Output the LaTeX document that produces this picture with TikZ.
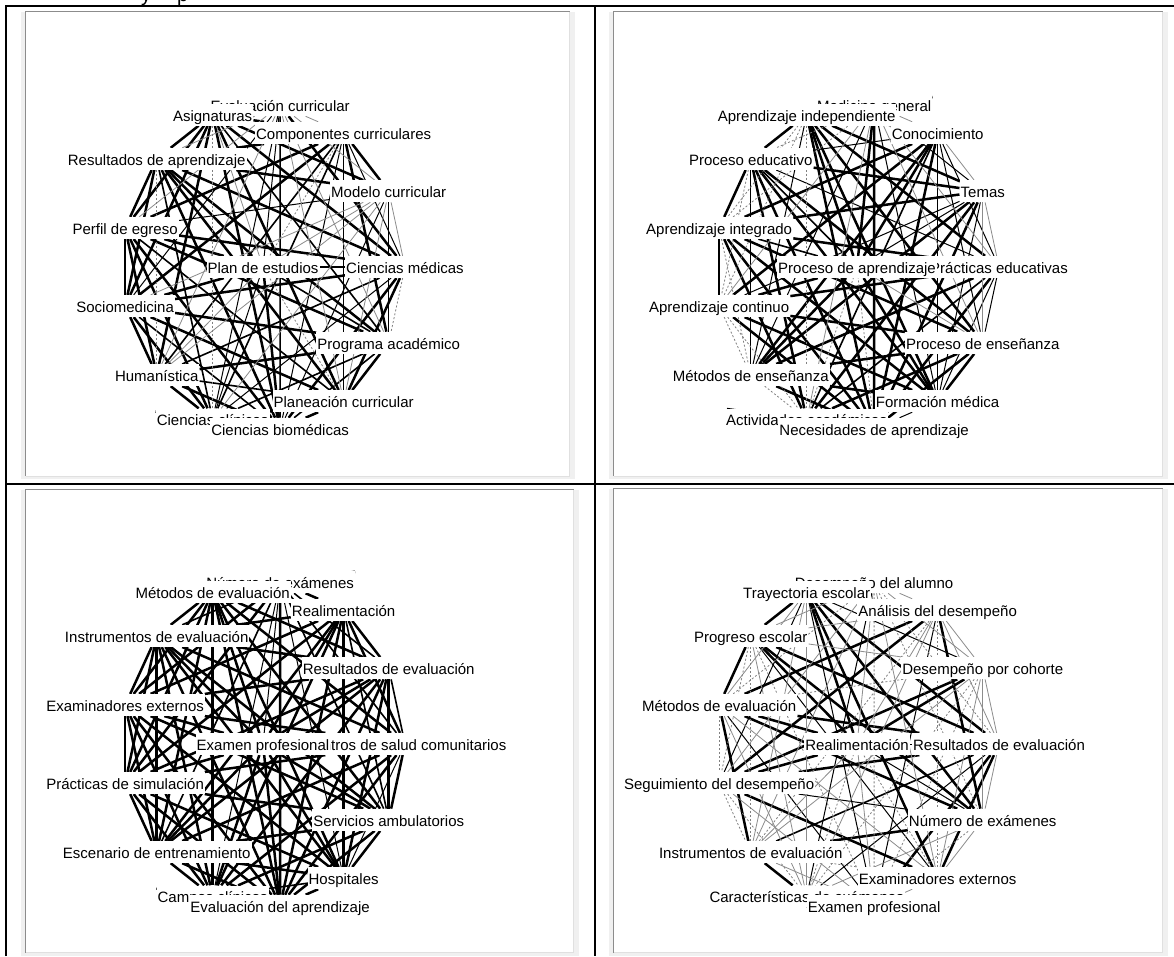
\documentclass[tikz,border=0pt]{standalone}
\usepackage{fontspec}
\setmainfont{Liberation Sans}
\usepackage{xcolor}
\usepackage{tikz}
\usetikzlibrary{calc, backgrounds}

\newcommand{\shotframe}[4]{%
    \fill[black!6] ({#1-4.5},#2) rectangle ({#3+5},{#4+3});
    \fill[white] (#1,#2) rectangle (#3,#4);
    \draw[black!45, line width=1.4pt] (#1,#4) -- (#1,#2) -- (#3,#2);
    \draw[black!12, line width=1pt] (#3,#2) -- (#3,#4) -- (#1,#4);
}

\tikzset{
    lab/.style={fill=white, inner xsep=1pt, inner ysep=0.3pt, text height=17pt, text depth=4.2pt,
        font=\fontsize{15}{17}\selectfont},
    heavy/.style={line width=2.5pt},
    medium/.style={line width=1.6pt},
    light/.style={line width=1pt},
    faint/.style={line width=0.8pt, black!45},
    dashline/.style={line width=0.8pt, black!50, dash pattern=on 2pt off 2pt}
}

\begin{document}
\begin{tikzpicture}[x=1pt, y=-1pt]
    \useasboundingbox (0,0) rectangle (1174,956);

    \node[anchor=base west, inner sep=0, font=\fontsize{20}{24}\selectfont] (capy) at (141,1) {y};
    \node[anchor=base west, inner sep=0, font=\fontsize{20}{24}\selectfont] (capp) at (177,1) {p};

    \foreach \name [count=\k from 0] in {Ciencias médicas,Modelo curricular,Componentes curriculares,Evaluación curricular,Asignaturas,Resultados de aprendizaje,Perfil de egreso,Sociomedicina,Humanística,Ciencias clínicas,Ciencias biomédicas,Planeación curricular,Programa académico}
        \node[lab] (p1-\k) at ({263+142*cos(\k*360/13)},{267-163*sin(\k*360/13)}) {\name};
    \node[lab] (p1-c) at (263,267) {Plan de estudios};

    \foreach \name [count=\k from 0] in {Prácticas educativas,Temas,Conocimiento,Medicina general,Aprendizaje independiente,Proceso educativo,Aprendizaje integrado,Aprendizaje continuo,Métodos de enseñanza,Actividades académicas,Necesidades de aprendizaje,Formación médica,Proceso de enseñanza}
        \node[lab] (p2-\k) at ({857+142*cos(\k*360/13)},{267-163*sin(\k*360/13)}) {\name};
    \node[lab] (p2-c) at (857,267) {Proceso de aprendizaje};

    \foreach \name [count=\k from 0] in {Centros de salud comunitarios,Resultados de evaluación,Realimentación,Número de exámenes,Métodos de evaluación,Instrumentos de evaluación,Examinadores externos,Prácticas de simulación,Escenario de entrenamiento,Campos clínicos,Evaluación del aprendizaje,Hospitales,Servicios ambulatorios}
        \node[lab] (p3-\k) at ({263+142*cos(\k*360/13)},{744-163*sin(\k*360/13)}) {\name};
    \node[lab] (p3-c) at (263,744) {Examen profesional};

    \foreach \name [count=\k from 0] in {Resultados de evaluación,Desempeño por cohorte,Análisis del desempeño,Desempeño del alumno,Trayectoria escolar,Progreso escolar,Métodos de evaluación,Seguimiento del desempeño,Instrumentos de evaluación,Características de exámenes,Examen profesional,Examinadores externos,Número de exámenes}
        \node[lab] (p4-\k) at ({857+142*cos(\k*360/13)},{744-163*sin(\k*360/13)}) {\name};
    \node[lab] (p4-c) at (857,744) {Realimentación};

    \begin{scope}[on background layer]
        \fill[white] (0,0) rectangle (1174,956);
        \shotframe{25.5}{11.5}{569.5}{476}
        \shotframe{613.5}{11.5}{1162.5}{476}
        \shotframe{25.5}{489.5}{573.5}{952.5}
        \shotframe{613.5}{488.5}{1162.5}{952.5}
        \draw[line width=2pt] (6,956) -- (6,6) -- (1174,6);
        \draw[line width=2pt] (595,6) -- (595,956);
        \draw[line width=2pt] (6,484) -- (1174,484);

        \foreach \a/\b in {0/3,0/4,0/5,0/6,0/7,0/10,0/11,0/c,1/2,1/4,1/5,2/4,2/5,2/6,2/7,2/12,3/4,4/5,4/6,4/7,4/8,4/10,4/11,5/6,5/7,5/10,5/11,5/12,5/c,6/7,6/8,6/9,6/10,6/12,6/c,7/8,7/9,7/11,7/12,7/c,8/9,8/10,8/12,9/10,9/11,10/11,10/c,11/12}
            \draw[heavy] (p1-\a) -- (p1-\b);
        \foreach \a/\b in {0/8,2/8,2/9,3/10,4/12,5/9,6/11,7/10,8/11,9/12,10/12,12/c}
            \draw[medium] (p1-\a) -- (p1-\b);
        \foreach \a/\b in {0/2,0/9,1/6,1/10,1/12,2/10,2/11,3/7,3/9,3/c,9/c}
            \draw[light] (p1-\a) -- (p1-\b);
        \foreach \a/\b in {0/1,1/3,1/7,1/8,1/9,1/11,1/c,2/3,3/5,3/6,3/8,3/11,3/12,4/c,8/c}
            \draw[faint] (p1-\a) -- (p1-\b);
        \foreach \a/\b in {0/12,2/c,4/9,5/8,11/c}
            \draw[dashline] (p1-\a) -- (p1-\b);

        \foreach \a/\b in {0/4,0/6,0/7,0/8,0/10,1/4,1/5,1/6,1/8,1/9,1/10,2/6,2/7,2/8,2/10,2/c,3/4,3/10,3/c,4/5,4/10,4/11,4/12,4/c,5/6,5/9,5/10,5/11,5/12,6/7,6/9,6/10,6/11,6/12,7/10,7/11,7/12,7/c,8/10,8/11,8/12,8/c,9/12,10/12,11/12,11/c}
            \draw[heavy] (p2-\a) -- (p2-\b);
        \foreach \a/\b in {0/9,2/9,5/c,6/c}
            \draw[medium] (p2-\a) -- (p2-\b);
        \foreach \a/\b in {0/2,0/5,0/11,0/12,1/3,1/7,1/11,1/c,2/5,2/11,2/12,3/8,3/11,4/8,5/8,9/10,10/11}
            \draw[light] (p2-\a) -- (p2-\b);
        \foreach \a/\b in {0/1,0/3,1/2,1/12,2/3,3/7,3/9,3/12,9/11,12/c}
            \draw[faint] (p2-\a) -- (p2-\b);
        \foreach \a/\b in {0/c,2/4,3/5,3/6,4/6,4/7,4/9,5/7,6/8,7/8,7/9,8/9,9/c,10/c}
            \draw[dashline] (p2-\a) -- (p2-\b);

        \foreach \a/\b in {0/2,0/4,0/5,0/6,0/7,0/8,0/9,0/10,0/12,0/c,1/2,1/4,1/5,1/6,1/7,1/8,1/9,1/10,1/11,1/12,1/c,2/3,2/4,2/5,2/6,2/7,2/8,2/9,2/10,2/11,2/c,3/4,3/6,3/7,3/10,4/5,4/6,4/7,4/8,4/9,4/10,4/11,4/12,4/c,5/6,5/7,5/8,5/9,5/10,5/11,5/12,5/c,6/7,6/8,6/9,6/10,6/11,6/12,6/c,7/8,7/9,7/10,7/11,7/12,7/c,8/9,8/10,8/11,8/12,8/c,9/10,9/12,9/c,10/11,10/12,10/c,11/12,11/c,12/c}
            \draw[heavy] (p3-\a) -- (p3-\b);
        \foreach \a/\b in {0/1,0/3,1/3,3/5,3/8,3/12,2/12,9/11}
            \draw[medium] (p3-\a) -- (p3-\b);
        \foreach \a/\b in {3/9,3/11,0/11,3/c}
            \draw[light] (p3-\a) -- (p3-\b);

        \foreach \a/\b in {0/4,0/5,0/6,0/7,0/10,0/11,1/7,1/c,2/4,2/6,2/7,2/12,3/4,4/5,4/11,4/12,4/c,5/6,5/12,5/c,6/8,6/12,6/c,7/11,7/c,8/9,8/12,9/11}
            \draw[heavy] (p4-\a) -- (p4-\b);
        \foreach \a/\b in {0/8}
            \draw[medium] (p4-\a) -- (p4-\b);
        \foreach \a/\b in {0/9,0/c,1/4,2/10,3/9,4/7,4/10,5/11,6/10,7/12,12/c}
            \draw[light] (p4-\a) -- (p4-\b);
        \foreach \a/\b in {0/1,0/2,0/12,1/2,1/3,1/5,1/8,1/11,1/12,2/3,2/5,2/9,2/c,3/5,3/7,3/8,3/11,3/c,4/6,4/8,4/9,5/9,6/9,6/11,7/10,8/10,8/c,9/12,10/11,10/c,11/12}
            \draw[faint] (p4-\a) -- (p4-\b);
        \foreach \a/\b in {0/3,1/6,1/9,1/10,2/8,2/11,3/6,3/10,3/12,5/7,5/8,5/10,6/7,7/8,7/9,8/11,9/10,9/c,10/12,11/c}
            \draw[dashline] (p4-\a) -- (p4-\b);
    \end{scope}
\end{tikzpicture}
\end{document}
